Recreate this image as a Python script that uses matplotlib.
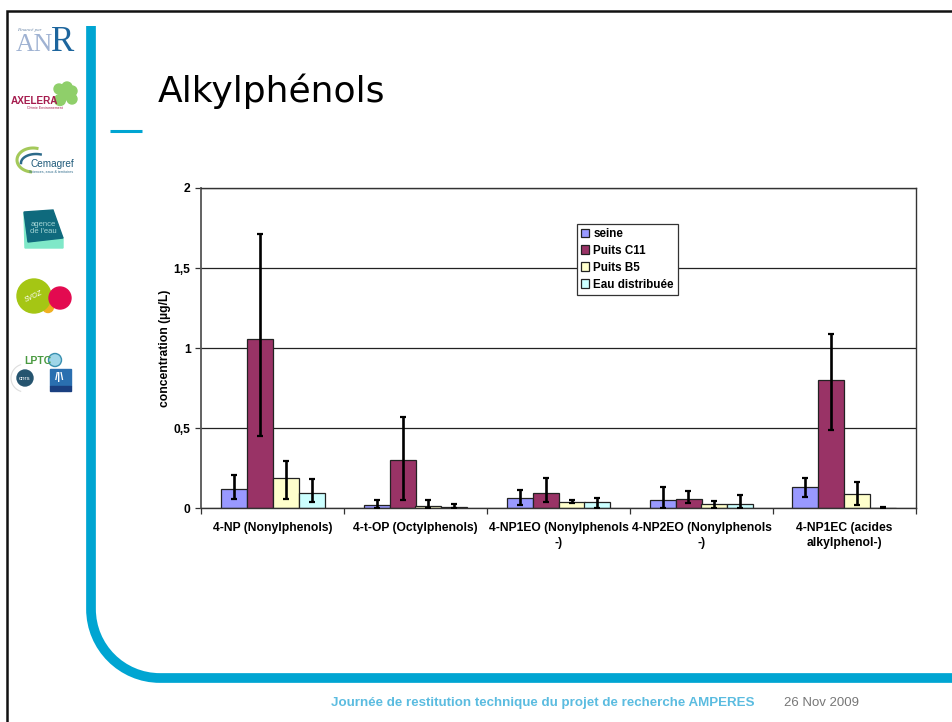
import matplotlib
matplotlib.use("Agg")
import matplotlib.pyplot as plt
import numpy as np
from matplotlib.patches import Circle, Polygon, Rectangle
from matplotlib.path import Path
from matplotlib.patches import PathPatch

W, H = 953, 722
BLUE = "#00A5D2"

categories = ["4-NP (Nonylphenols)", "4-t-OP (Octylphenols)",
              "4-NP1EO (Nonylphenols\n-)", "4-NP2EO (Nonylphenols\n-)",
              "4-NP1EC (acides\nalkylphenol-)"]
series = ["seine", "Puits C11", "Puits B5", "Eau distribuée"]
colors = ["#9999FF", "#993366", "#FFFFCC", "#CCFFFF"]

seine = [0.122, 0.019, 0.066, 0.050, 0.133]
c11 = [1.058, 0.302, 0.094, 0.056, 0.802]
b5 = [0.190, 0.017, 0.042, 0.025, 0.092]
eau = [0.098, 0.010, 0.038, 0.027, 0.004]

seine_hi = [0.210, 0.054, 0.116, 0.130, 0.190]
c11_hi = [1.710, 0.573, 0.190, 0.110, 1.090]
b5_hi = [0.296, 0.050, 0.052, 0.044, 0.163]
eau_hi = [0.185, 0.028, 0.066, 0.085, 0.007]

seine_lo = [0.056, 0.000, 0.020, 0.003, 0.073]
c11_lo = [0.452, 0.052, 0.038, 0.031, 0.490]
b5_lo = [0.058, 0.000, 0.030, 0.003, 0.020]
eau_lo = [0.037, 0.000, 0.002, 0.003, 0.000]

yticks = [0, 0.5, 1, 1.5, 2]
ytick_labels = ["0", "0,5", "1", "1,5", "2"]

plt.rcParams["font.family"] = ["Liberation Sans", "DejaVu Sans"]

fig = plt.figure(figsize=(W / 100, H / 100), dpi=100)


def logos(bg):
    # ---- ANR ----
    bg.text(29, 29.5, "Financé par", fontsize=3.6, style="italic", color="#6a86a8",
            ha="center", va="center", family="Liberation Serif")
    bg.text(15.5, 51, "AN", fontsize=18.5, color="#9fb2d2", ha="left", va="baseline",
            family="Liberation Serif")
    bg.text(51, 51, "R", fontsize=25, color="#1d659d", ha="left", va="baseline",
            family="Liberation Serif")
    # ---- Axelera ----
    for x, y, r in [(59, 89, 5), (67, 87, 5), (72, 91, 5), (60, 100, 5.5),
                    (72, 99, 5), (65, 95, 5)]:
        bg.add_patch(Circle((x, y), r, color="#8fcf6a"))
    bg.text(34.5, 100.5, "AXELERA", fontsize=7.2, weight="bold", color="#a51c4e",
            ha="center", va="center")
    bg.text(45, 108, "Chimie Environnement", fontsize=2.5, color="#a51c4e",
            ha="center", va="center")
    # ---- Cemagref ----
    t = np.linspace(0.42 * np.pi, 1.45 * np.pi, 40)
    bg.plot(33 + 16 * np.cos(t), 160 - 12 * np.sin(t), color="#a4c95a", lw=2.2)
    t = np.linspace(0.4 * np.pi, 1.0 * np.pi, 30)
    bg.plot(36 + 15 * np.cos(t), 163 - 9 * np.sin(t), color="#2c6a8a", lw=1.8)
    bg.text(52, 164, "Cemagref", fontsize=7.2, color="#1f5a7a", ha="center",
            va="center")
    bg.text(51, 172, "Sciences, eaux & territoires", fontsize=2.6,
            color="#2c6a8a", ha="center", va="center")
    # ---- Agence de l'eau ----
    bg.add_patch(Polygon([(24, 213), (25, 248), (63, 248), (63, 238)],
                         color="#7fe8c8"))
    bg.add_patch(Polygon([(24, 212), (53, 210), (63, 238), (28, 242)],
                         color="#0f6a7d"))
    bg.text(43, 228, "agence\nde l'eau", fontsize=5.5, color="#a5d6d6",
            ha="center", va="center", linespacing=0.9)
    # ---- Green / red circles ----
    bg.add_patch(Circle((48, 307), 5.5, color="#f0b020"))
    bg.add_patch(Circle((34, 296), 17, color="#a5c614"))
    bg.add_patch(Circle((60, 298), 11, color="#e30a50"))
    bg.text(34, 297, "SVOZ", fontsize=5, color="white", rotation=25,
            ha="center", va="center", style="italic")
    # ---- LPTC / CNRS ----
    bg.text(38, 361, "LPTC", fontsize=7.5, weight="bold", color="#4a9a40",
            ha="center", va="center")
    bg.add_patch(Circle((55, 360), 6.5, fc="#9fd6e8", ec="#3a90b0", lw=1))
    t = np.linspace(0.6 * np.pi, 1.4 * np.pi, 20)
    bg.plot(25 + 14 * np.cos(t), 378 + 14 * np.sin(t), color="#dddddd", lw=0.8)
    bg.add_patch(Circle((25, 378), 8, color="#25546f"))
    bg.text(25, 378, "cnrs", fontsize=4.5, color="white", ha="center", va="center")
    bg.add_patch(Rectangle((50, 369), 21, 17, color="#2a6fb0"))
    bg.text(60, 377, "/|\\", fontsize=8, color="white", ha="center",
            va="center", weight="bold")
    bg.add_patch(Rectangle((50, 386), 21, 5, color="#1a3f80"))


# background layer in pixel coordinates
bg = fig.add_axes([0, 0, 1, 1], zorder=0)
bg.set_xlim(0, W)
bg.set_ylim(H, 0)
bg.axis("off")

# slide frame, left and top only
bg.plot([7, 7, W], [H, 11, 11], color="#111111", lw=1.8, solid_joinstyle="miter")

# blue band with rounded corner
r = 69
k = 0.5523 * r
band = Path([(91, 26), (91, 678 - r), (91, 678 - r + k), (160 - k, 678), (160, 678), (W, 678)],
            [Path.MOVETO, Path.LINETO, Path.CURVE4, Path.CURVE4, Path.CURVE4, Path.LINETO])
bg.add_patch(PathPatch(band, fc="none", ec=BLUE, lw=7, capstyle="butt"))
bg.plot([110, 142], [130.5, 130.5], color=BLUE, lw=2.2, solid_capstyle="butt")

bg.text(158, 91, "Alkylphénols", fontsize=26, color="black", va="center",
        family="DejaVu Sans")
bg.text(331, 703, "Journée de restitution technique du projet de recherche AMPERES",
        fontsize=9.65, weight="bold", color="#5BBCE0", va="center")
bg.text(784, 703, "26 Nov 2009", fontsize=9.55, color="#777777", va="center")
logos(bg)

# chart
ax = fig.add_axes([201 / W, 1 - 508.3 / H, 715 / W, 320.3 / H], zorder=1)
ax.patch.set_alpha(0)
x = np.arange(len(categories)) + 0.5
bw = 26 / 143
vals = [seine, c11, b5, eau]
his = [seine_hi, c11_hi, b5_hi, eau_hi]
los = [seine_lo, c11_lo, b5_lo, eau_lo]
for j, name in enumerate(series):
    v = np.array(vals[j])
    yerr = [v - np.array(los[j]), np.array(his[j]) - v]
    ax.bar(x + (j - 1.5) * bw, v, bw, color=colors[j], edgecolor="#222222",
           linewidth=0.9, label=name, zorder=2, yerr=yerr,
           error_kw=dict(ecolor="black", elinewidth=1.9, capsize=2.4,
                         capthick=1.6, zorder=3))

ax.set_xlim(0, 5)
ax.set_ylim(0, 2)
ax.set_yticks(yticks)
ax.set_yticklabels(ytick_labels, fontsize=8.7, weight="bold")
ax.set_xticks(np.arange(6))
ax.set_xticklabels([])
ax.set_xticks(x, minor=True)
ax.set_xticklabels(categories, minor=True, fontsize=8.7, weight="bold",
                   linespacing=1.3)
ax.tick_params(axis="x", which="minor", length=0, pad=10)
ax.tick_params(axis="both", which="major", length=4, width=0.9, color="#333333")
ax.yaxis.grid(True, color="#222222", lw=0.9, zorder=1)
ax.set_axisbelow(True)
for s in ax.spines.values():
    s.set_color("#333333")
    s.set_linewidth(1)
ax.spines["left"].set_linewidth(1.3)
ax.spines["left"].set_color("#555555")
ax.set_ylabel("concentration (µg/L)", fontsize=8.7, weight="bold", labelpad=0)
ax.yaxis.set_label_coords((171 - 201) / 715, 0.5)

leg = ax.legend(loc="upper left", bbox_to_anchor=((576.5 - 201) / 715, (508.3 - 224) / 320.3),
                fontsize=8.4, frameon=True, fancybox=False, framealpha=1,
                edgecolor="#333333", borderaxespad=0, borderpad=0.35,
                handlelength=0.75, handleheight=0.8, handletextpad=0.35,
                labelspacing=0.42)
leg.get_frame().set_linewidth(0.9)
for t in leg.get_texts():
    t.set_fontweight("bold")
leg.set_zorder(5)

fig.savefig("out.png", dpi=100)
